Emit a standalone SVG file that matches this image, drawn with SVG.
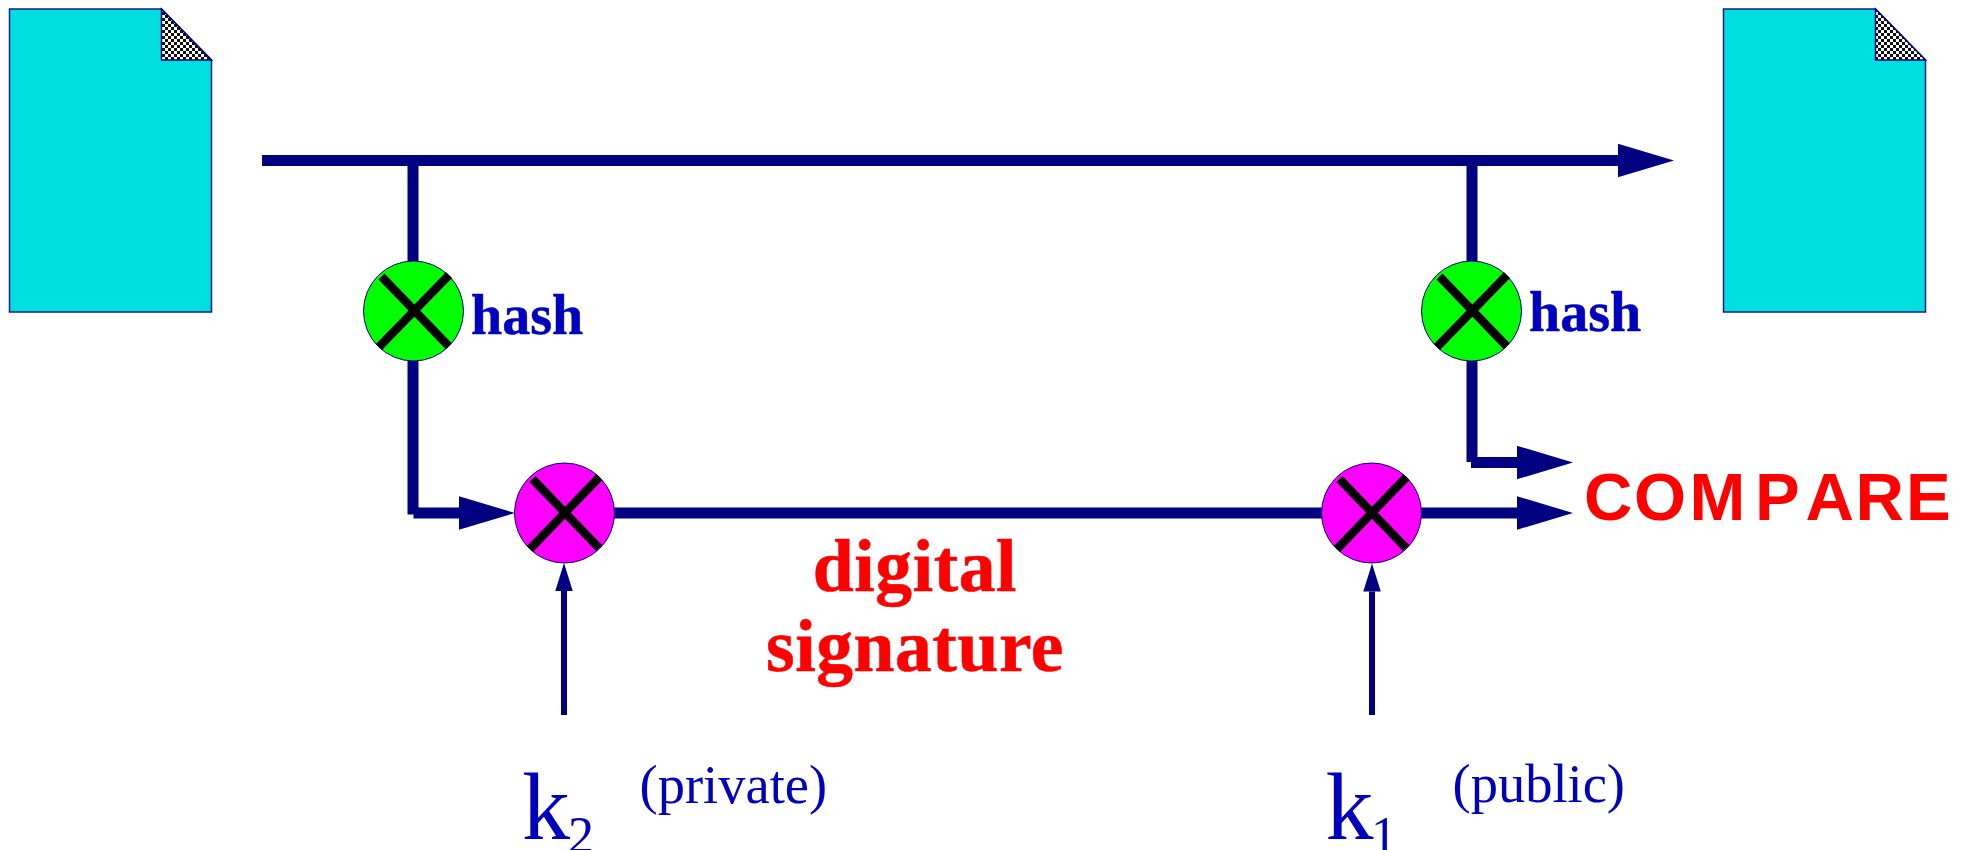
<svg xmlns="http://www.w3.org/2000/svg" width="1971" height="850" viewBox="0 0 1971 850">
<style>
.doc{fill:#00dfdf;stroke:#1a1a90;stroke-width:1.5}
.fold{fill:url(#checker);stroke:#000080;stroke-width:1.5}
.op{stroke:#000080;stroke-width:1}
.hashop{fill:#00ff00}
.keyop{fill:#ff00ff}
.x{stroke:#000;stroke-width:8.5;fill:none}
.thick{stroke:#000080;stroke-width:11;fill:none}
.thin{stroke:#000080;stroke-width:6;fill:none}
.big{marker-end:url(#bigHead)}
.small{marker-end:url(#smallHead)}
text{font-family:"Liberation Serif","Times New Roman",serif}
.blue{fill:#0000bf}
.hash{font-size:56px;font-weight:bold;stroke:#0000bf;stroke-width:.5}
.sig{font-size:73.5px;font-weight:bold;fill:#ff0000;stroke:#ff0000;stroke-width:.6;text-anchor:middle;letter-spacing:.6px}
.key{font-size:96px}
.sub{font-size:52px}
.note{font-size:54.5px}
.cmp{font-family:"Liberation Sans",Arial,sans-serif;font-size:67px;font-weight:bold;fill:#ff0000}
</style>
<defs>
<pattern id="checker" width="6" height="6" patternUnits="userSpaceOnUse">
<rect width="6" height="6" fill="#fff"/>
<rect width="3" height="3" fill="#111"/>
<rect x="3" y="3" width="3" height="3" fill="#111"/>
</pattern>
<marker id="bigHead" markerUnits="userSpaceOnUse" markerWidth="57" markerHeight="34" refX="0" refY="16.75" orient="auto">
<path d="M0 0L56 16.75L0 33.5Z" fill="#000080"/>
</marker>
<marker id="smallHead" markerUnits="userSpaceOnUse" markerWidth="29" markerHeight="18" refX="0" refY="8.75" orient="auto">
<path d="M0 0L28 8.75L0 17.5Z" fill="#000080"/>
</marker>
</defs>
<g id="connectors">
<line class="thick big" x1="262" y1="160.5" x2="1618" y2="160.5"/>
<line class="thick" x1="413" y1="160" x2="413" y2="261"/>
<line class="thick" x1="413" y1="361" x2="413" y2="514.5"/>
<line class="thick big" x1="413.5" y1="513" x2="459" y2="513"/>
<line class="thick" x1="1472" y1="160" x2="1472" y2="261"/>
<line class="thick" x1="1472" y1="361" x2="1472" y2="462"/>
<line class="thick big" x1="1471" y1="462.5" x2="1517" y2="462.5"/>
<line class="thick" x1="614" y1="513" x2="1322" y2="513"/>
<line class="thick big" x1="1421" y1="513" x2="1517" y2="513"/>
<line class="thin small" x1="564" y1="715" x2="564" y2="591"/>
<line class="thin small" x1="1372" y1="715" x2="1372" y2="591.5"/>
</g>
<g id="doc-left">
<path class="doc" d="M9.5 9H161.5L211.5 60V312H9.5Z"/>
<path class="fold" d="M161.5 9L211.5 60H161.5Z"/>
</g>
<g id="doc-right">
<path class="doc" d="M1723.5 9H1875.5L1925.5 60V312H1723.5Z"/>
<path class="fold" d="M1875.5 9L1925.5 60H1875.5Z"/>
</g>
<g id="hash-left">
<circle class="op hashop" cx="413.5" cy="311" r="50"/>
<path class="x" d="M381.5 276.5L448.5 346M449 275L379 347"/>
<text class="hash blue" x="471" y="334">hash</text>
</g>
<g id="hash-right">
<circle class="op hashop" cx="1471.5" cy="311" r="50"/>
<path class="x" d="M1439.5 276.5L1506.5 346M1507 275L1437 347"/>
<text class="hash blue" x="1529" y="331">hash</text>
</g>
<g id="sign">
<circle class="op keyop" cx="564.5" cy="513" r="50"/>
<path class="x" d="M532.5 479L599 548M599.5 477L530 549"/>
</g>
<g id="verify">
<circle class="op keyop" cx="1371.5" cy="513" r="50"/>
<path class="x" d="M1339.5 479L1406 548M1406.5 477L1337 549"/>
</g>
<g id="label-signature">
<text class="sig" x="915" y="591">digital</text>
<text class="sig" x="915" y="671">signature</text>
</g>
<g id="label-compare">
<text class="cmp" x="1584 1634 1689.5 1755 1805.4 1855.6 1906" y="520">COMPARE</text>
</g>
<g id="key-private">
<text class="key blue" x="522" y="838.5">k<tspan class="sub" x="568" y="853">2</tspan></text>
<text class="note blue" x="639.5" y="803">(private)</text>
</g>
<g id="key-public">
<text class="key blue" x="1325.5" y="838.5">k<tspan class="sub" x="1371" y="853">1</tspan></text>
<text class="note blue" x="1452.5" y="802">(public)</text>
</g>
</svg>
